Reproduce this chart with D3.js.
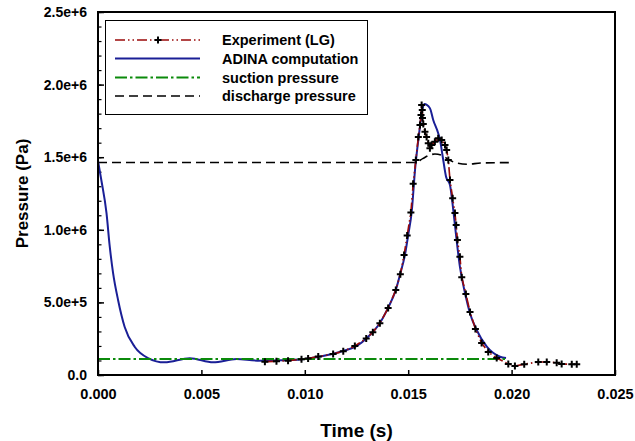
<!DOCTYPE html>
<html>
<head>
<meta charset="utf-8">
<script src="https://cdn.jsdelivr.net/npm/d3@7"></script>
<style>
  body { margin: 0; background: #fff; }
  svg text { font-family: "Liberation Sans", Arial, sans-serif; font-weight: bold; fill: #000; }
</style>
</head>
<body>
<svg id="chart" width="635" height="441"></svg>
<script>
// tick values / labels
const xTicks = [0, 0.005, 0.010, 0.015, 0.020, 0.025];
const xTickLabels = ['0.000', '0.005', '0.010', '0.015', '0.020', '0.025'];
const yTicks = [0, 5e5, 1e6, 1.5e6, 2e6, 2.5e6];
const yTickLabels = ['0.0', '5.0e+5', '1.0e+6', '1.5e+6', '2.0e+6', '2.5e+6'];

// ADINA computation
const adinaT = [0, 0.00016, 0.00041, 0.00057, 0.00073, 0.00097, 0.00129, 0.00178, 0.00242, 0.00322,
  0.00444, 0.00557, 0.0067, 0.0077, 0.0093, 0.0100, 0.01087, 0.01184, 0.01252, 0.01300,
  0.01363, 0.01402, 0.01440, 0.01460, 0.01484, 0.01500, 0.01517, 0.01533, 0.01553, 0.01568,
  0.01578, 0.01605, 0.01621, 0.01645, 0.01654, 0.01667, 0.01683, 0.01702, 0.01718, 0.01734,
  0.01750, 0.01775, 0.01799, 0.01831, 0.01880, 0.01944, 0.01973];
const adinaP = [1.474e6, 1.343e6, 1.116e6, 0.882e6, 0.702e6, 0.517e6, 0.331e6, 0.193e6, 0.117e6, 0.087e6,
  0.115e6, 0.087e6, 0.110e6, 0.099e6, 0.103e6, 0.110e6, 0.131e6, 0.165e6, 0.200e6, 0.255e6,
  0.358e6, 0.461e6, 0.585e6, 0.689e6, 0.826e6, 0.964e6, 1.125e6, 1.412e6, 1.665e6, 1.825e6,
  1.866e6, 1.837e6, 1.756e6, 1.665e6, 1.618e6, 1.503e6, 1.366e6, 1.309e6, 1.136e6, 0.930e6,
  0.746e6, 0.562e6, 0.424e6, 0.310e6, 0.195e6, 0.126e6, 0.117e6];

// Experiment (LG)
const expT = [0.00807, 0.00863, 0.00919, 0.00984, 0.01016, 0.01065, 0.01137, 0.01186, 0.01242, 0.01297,
  0.01329, 0.01363, 0.01403, 0.01440, 0.01462, 0.01480, 0.01495, 0.01513, 0.01524, 0.01537,
  0.01549, 0.01557, 0.01562, 0.01565, 0.01568, 0.01569, 0.01573, 0.01581, 0.01589, 0.01597,
  0.01605, 0.01613, 0.01629, 0.01645, 0.01662, 0.01678, 0.01686, 0.01694, 0.01702, 0.01715,
  0.01726, 0.01732, 0.01738, 0.01750, 0.01759, 0.01779, 0.01799, 0.01825, 0.01855, 0.01887,
  0.01928, 0.01984, 0.02016, 0.02061, 0.02129, 0.02170, 0.02218, 0.02242, 0.02291, 0.02315];
const expP = [0.092e6, 0.094e6, 0.098e6, 0.108e6, 0.114e6, 0.127e6, 0.145e6, 0.163e6, 0.200e6, 0.251e6,
  0.294e6, 0.356e6, 0.461e6, 0.585e6, 0.694e6, 0.826e6, 0.961e6, 1.119e6, 1.317e6, 1.481e6,
  1.639e6, 1.722e6, 1.791e6, 1.859e6, 1.825e6, 1.770e6, 1.729e6, 1.676e6, 1.639e6, 1.596e6,
  1.561e6, 1.584e6, 1.607e6, 1.630e6, 1.618e6, 1.584e6, 1.550e6, 1.481e6, 1.343e6, 1.217e6,
  1.116e6, 1.033e6, 0.930e6, 0.815e6, 0.673e6, 0.558e6, 0.434e6, 0.317e6, 0.220e6, 0.158e6,
  0.117e6, 0.076e6, 0.062e6, 0.074e6, 0.090e6, 0.090e6, 0.085e6, 0.076e6, 0.074e6, 0.074e6];

// suction / discharge pressure
const suctionT = [0, 0.0198];
const suctionP = [1.10e5, 1.10e5];
const dischargeT = [0, 0.01533, 0.0157, 0.0160, 0.01629, 0.0166, 0.0170, 0.0174, 0.0179, 0.0185, 0.0199];
const dischargeP = [1.463e6, 1.463e6, 1.49e6, 1.512e6, 1.522e6, 1.515e6, 1.48e6, 1.458e6, 1.451e6, 1.46e6, 1.463e6];

const legendNames = ['Experiment (LG)', 'ADINA computation', 'suction pressure', 'discharge pressure'];

const RED = '#9a0a0a';
const BLUE = '#1a1f96';
const GREEN = '#0b8a0b';

const margin = { top: 12, right: 20, bottom: 66, left: 98 };
const width = 635 - margin.left - margin.right;
const height = 441 - margin.top - margin.bottom;

const svg = d3.select('#chart');
const g = svg.append('g').attr('transform', `translate(${margin.left},${margin.top})`);

const x = d3.scaleLinear().domain([0, 0.025]).range([0, width]);
const y = d3.scaleLinear().domain([0, 2.5e6]).range([height, 0]);

const zip = (ts, ps) => ts.map((t, i) => [t, ps[i]]);

// axes
let xAxis = d3.axisBottom(x).tickValues(xTicks).tickSizeInner(-5).tickSizeOuter(0)
  .tickPadding(14).tickFormat((d, i) => xTickLabels[i]);
let gx = g.append('g').attr('transform', `translate(0,${height})`).call(xAxis);
gx.select('.domain').remove();
gx.selectAll('line').attr('stroke', '#000').attr('stroke-width', 1.5);
gx.selectAll('text').style('font-size', '14.5px');

let yMinor = d3.range(0, 2.5e6 + 1, 1e5);
g.append('g').call(d3.axisLeft(y).tickValues(yMinor).tickSizeInner(-3.5).tickSizeOuter(0).tickFormat(''))
  .call(s => s.select('.domain').remove())
  .selectAll('line').attr('stroke', '#000').attr('stroke-width', 1.2);

let yAxis = d3.axisLeft(y).tickValues(yTicks).tickSizeInner(-6).tickSizeOuter(0)
  .tickPadding(11).tickFormat((d, i) => yTickLabels[i]);
let gy = g.append('g').call(yAxis);
gy.select('.domain').remove();
gy.selectAll('line').attr('stroke', '#000').attr('stroke-width', 1.5);
gy.selectAll('text').style('font-size', '14px');

// curves
let lineSmooth = d3.line().x(d => x(d[0])).y(d => y(d[1])).curve(d3.curveMonotoneX);
let lineStraight = d3.line().x(d => x(d[0])).y(d => y(d[1]));

g.append('path').datum(zip(dischargeT, dischargeP)).attr('d', lineSmooth)
  .attr('fill', 'none').attr('stroke', '#000').attr('stroke-width', 1.6)
  .attr('stroke-dasharray', '9,5');

g.append('path').datum(zip(adinaT, adinaP)).attr('d', lineSmooth)
  .attr('fill', 'none').attr('stroke', BLUE).attr('stroke-width', 2);

g.append('path').datum(zip(suctionT, suctionP)).attr('d', lineStraight)
  .attr('fill', 'none').attr('stroke', GREEN).attr('stroke-width', 2)
  .attr('stroke-dasharray', '12,3,2.5,3');

g.append('path').datum(zip(expT, expP)).attr('d', lineStraight)
  .attr('fill', 'none').attr('stroke', RED).attr('stroke-width', 1.6)
  .attr('stroke-dasharray', '10,3,1.5,3,1.5,3');

const cross = 'M-3.5,0H3.5M0,-3.5V3.5';
g.selectAll('.mk')
  .data(zip(expT, expP))
  .enter().append('path')
    .attr('class', 'mk')
    .attr('d', cross)
    .attr('transform', d => `translate(${x(d[0])},${y(d[1])})`)
    .attr('stroke', '#000').attr('stroke-width', 2);

// frame
g.append('rect').attr('width', width).attr('height', height)
  .attr('fill', 'none').attr('stroke', '#000').attr('stroke-width', 2);

// axis titles
svg.append('text')
  .attr('x', margin.left + width / 2).attr('y', 437)
  .attr('text-anchor', 'middle').style('font-size', '19px')
  .text('Time (s)');

svg.append('text')
  .attr('transform', `translate(22,${margin.top + height / 2}) rotate(-90)`)
  .attr('text-anchor', 'middle').attr('dy', '0.35em').style('font-size', '17px')
  .text('Pressure (Pa)');

// legend
let lg = svg.append('g');
lg.append('rect').attr('x', 105.5).attr('y', 20.5).attr('width', 262).attr('height', 94)
  .attr('fill', '#fff').attr('stroke', '#000').attr('stroke-width', 1);

let rows = [40, 58.5, 77.5, 96];
let styles = [
  { stroke: RED, dash: '10,3,1.5,3,1.5,3', w: 1.6 },
  { stroke: BLUE, dash: null, w: 2 },
  { stroke: GREEN, dash: '12,3,2.5,3', w: 2 },
  { stroke: '#000', dash: '9,5', w: 1.6 }
];

legendNames.forEach((name, i) => {
  let ln = lg.append('line')
    .attr('x1', 115).attr('x2', 200).attr('y1', rows[i]).attr('y2', rows[i])
    .attr('stroke', styles[i].stroke).attr('stroke-width', styles[i].w);
  if (styles[i].dash) ln.attr('stroke-dasharray', styles[i].dash);
  lg.append('text').attr('x', 222).attr('y', rows[i]).attr('dy', '0.35em')
    .style('font-size', '14.5px').text(name);
});

lg.append('path').attr('d', cross).attr('transform', `translate(158,${rows[0]})`)
  .attr('stroke', '#000').attr('stroke-width', 2);
</script>
</body>
</html>
